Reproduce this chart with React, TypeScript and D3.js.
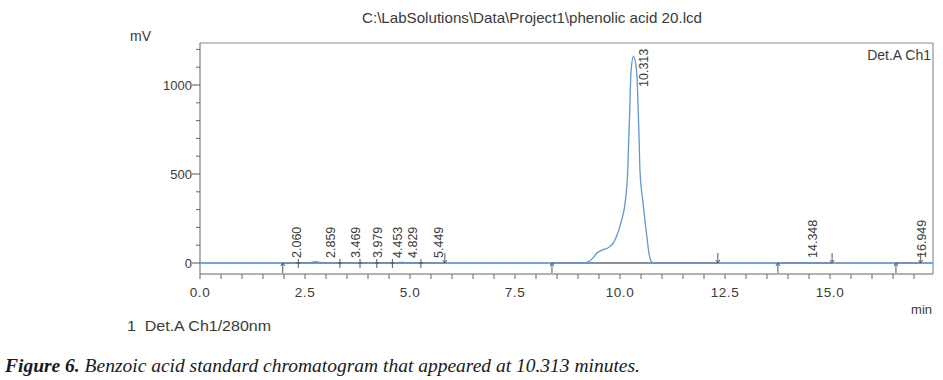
import React from "react";
import * as d3 from "d3";

// ---- data ----
const signalTime = [0, 2.55, 2.75, 2.95, 4.55, 4.8, 5.05, 9.12, 9.26, 9.36, 9.45, 9.57, 9.76, 9.86, 9.93, 9.99, 10.05, 10.12, 10.185, 10.21, 10.235, 10.26, 10.32, 10.4, 10.43, 10.455, 10.475, 10.55, 10.64, 10.69, 10.75, 10.87, 14.2, 14.35, 14.5, 17.45];
const signalMv = [0, 0, 7, 0, 0, 4, 0, 0, 8, 30, 56, 72, 92, 120, 157, 200, 250, 335, 522, 710, 880, 1066, 1160, 1066, 880, 700, 522, 335, 148, 56, 7, 0, 0, 2, 0, 0];

const peakTimes = [2.06, 2.859, 3.469, 3.979, 4.453, 4.829, 5.449, 10.313, 14.348, 16.949];
const peakLabels = ["2.060", "2.859", "3.469", "3.979", "4.453", "4.829", "5.449", "10.313", "14.348", "16.949"];

const startMarks = [1.97, 8.38, 13.76, 16.57];
const crossMarks = [2.34, 3.33, 3.81, 4.21, 4.58, 5.26];
const endMarks = [5.83, 12.33, 15.05, 17.16];
const baselineSegStart = [1.97, 8.38, 13.76, 16.57];
const baselineSegEnd = [5.83, 12.33, 15.05, 17.16];

const xTickLabels = ["0.0", "2.5", "5.0", "7.5", "10.0", "12.5", "15.0"];
const xTickValues = [0, 2.5, 5, 7.5, 10, 12.5, 15];
const yTickValues = [0, 500, 1000];

const titleText = "C:\\LabSolutions\\Data\\Project1\\phenolic acid 20.lcd";

export default function App() {
  const W = 943, H = 380;
  const left = 200, right = 933, top = 43, bottom = 274;
  const x = d3.scaleLinear().domain([0, (right - left) / 42]).range([left, right]);
  const y = d3.scaleLinear().domain([0, 1000]).range([263, 85]);
  const y0 = y(0);

  const pts: [number, number][] = signalTime.map((t, i) => [x(t), y(signalMv[i])]);
  const line = d3.line().curve(d3.curveMonotoneX)(pts) || "";

  const minorX = d3.range(0, 35).map((i) => i * 0.5);
  const minorY = d3.range(1, 13).map((i) => i * 100).filter((v) => v % 500 !== 0);

  const font = "'Liberation Sans', Arial, sans-serif";
  const ink = "#3a3a3a";
  const blue = "#5f97cf";

  return (
    <div style={{ position: "absolute", left: 0, top: 0 }}>
      <svg width={W} height={H} style={{ display: "block", background: "#fff" }} fontFamily={font}>
        <text x={362} y={23} fontSize={14.5} fill={ink} textLength={340} lengthAdjust="spacingAndGlyphs">{titleText}</text>
        <text x={130} y={41} fontSize={14} fill={ink}>mV</text>

        {/* frame */}
        <line x1={left} x2={right} y1={top} y2={top} stroke="#8a8a8a" />
        <line x1={right} x2={right} y1={top} y2={bottom} stroke="#7a7a7a" />
        <line x1={left} x2={left} y1={top} y2={bottom} stroke="#666" />
        <line x1={left} x2={right} y1={bottom} y2={bottom} stroke="#666" />

        {/* y ticks */}
        {minorY.map((v) => (
          <line key={"my" + v} x1={left - 4} x2={left} y1={y(v)} y2={y(v)} stroke="#666" />
        ))}
        {yTickValues.map((v) => (
          <g key={"y" + v}>
            <line x1={left - 8} x2={left} y1={y(v)} y2={y(v)} stroke="#555" />
            <text x={left - 8} y={y(v)} dy="0.36em" fontSize={13} fill={ink} textAnchor="end">{v}</text>
          </g>
        ))}

        {/* x ticks */}
        {minorX.map((v) => (
          <line key={"mx" + v} x1={x(v)} x2={x(v)} y1={bottom} y2={bottom + 5} stroke="#666" />
        ))}
        {xTickValues.map((v, i) => (
          <text key={"xl" + v} x={x(v)} y={297} fontSize={13.5} fill={ink} textAnchor="middle" letterSpacing={0.6}>{xTickLabels[i]}</text>
        ))}

        {/* baseline (zero) */}
        <line x1={left} x2={right} y1={y0} y2={y0} stroke="#9cc0e3" strokeWidth={1.5} />

        {/* integration baselines */}
        {baselineSegStart.map((s, i) => (
          <line key={"bs" + i} x1={x(s)} x2={x(baselineSegEnd[i])} y1={y0} y2={y0} stroke="#555" strokeWidth={1} />
        ))}

        {/* chromatogram */}
        <path d={line} fill="none" stroke={blue} strokeWidth={1.3} />

        {/* markers */}
        {startMarks.map((t, i) => (
          <g key={"sm" + i} stroke="#555" fill="none">
            <line x1={x(t)} x2={x(t)} y1={y0} y2={y0 + 10} />
            <path d={`M${x(t) - 2},${y0 + 3}L${x(t)},${y0}L${x(t) + 2},${y0 + 3}`} />
          </g>
        ))}
        {crossMarks.map((t, i) => (
          <g key={"cm" + i} stroke="#555" fill="none">
            <line x1={x(t)} x2={x(t)} y1={y0 - 4} y2={y0 + 5} />
            <line x1={x(t) - 2} x2={x(t) + 2} y1={y0} y2={y0} />
          </g>
        ))}
        {endMarks.map((t, i) => (
          <g key={"em" + i} stroke="#555" fill="none">
            <line x1={x(t)} x2={x(t)} y1={y0 - 10} y2={y0} />
            <path d={`M${x(t) - 2},${y0 - 3}L${x(t)},${y0}L${x(t) + 2},${y0 - 3}`} />
          </g>
        ))}

        {/* peak labels */}
        {peakTimes.map((t, i) => {
          const cx = x(t) + 10;
          const sy = t > 10 && t < 11 ? 87 : 258;
          return (
            <text key={"pl" + i} transform={`translate(${cx},${sy}) rotate(-90)`} dy="0.36em" fontSize={12.5} fill={ink}>
              {peakLabels[i]}
            </text>
          );
        })}

        <text x={931} y={60} fontSize={14} fill={ink} textAnchor="end">Det.A Ch1</text>
        <text x={932} y={314} fontSize={13} fill={ink} textAnchor="end">min</text>
        <text x={127} y={331} fontSize={14} fill={ink} textLength={144} lengthAdjust="spacingAndGlyphs" style={{ whiteSpace: "pre" }}>1  Det.A Ch1/280nm</text>

        <text x={5} y={372} fontSize={18} fontFamily="'Liberation Serif', 'Times New Roman', serif" fontStyle="italic" fill="#1a1a1a" textLength={635} lengthAdjust="spacingAndGlyphs">
          <tspan fontWeight="bold">Figure 6.</tspan> Benzoic acid standard chromatogram that appeared at 10.313 minutes.
        </text>
      </svg>
    </div>
  );
}
